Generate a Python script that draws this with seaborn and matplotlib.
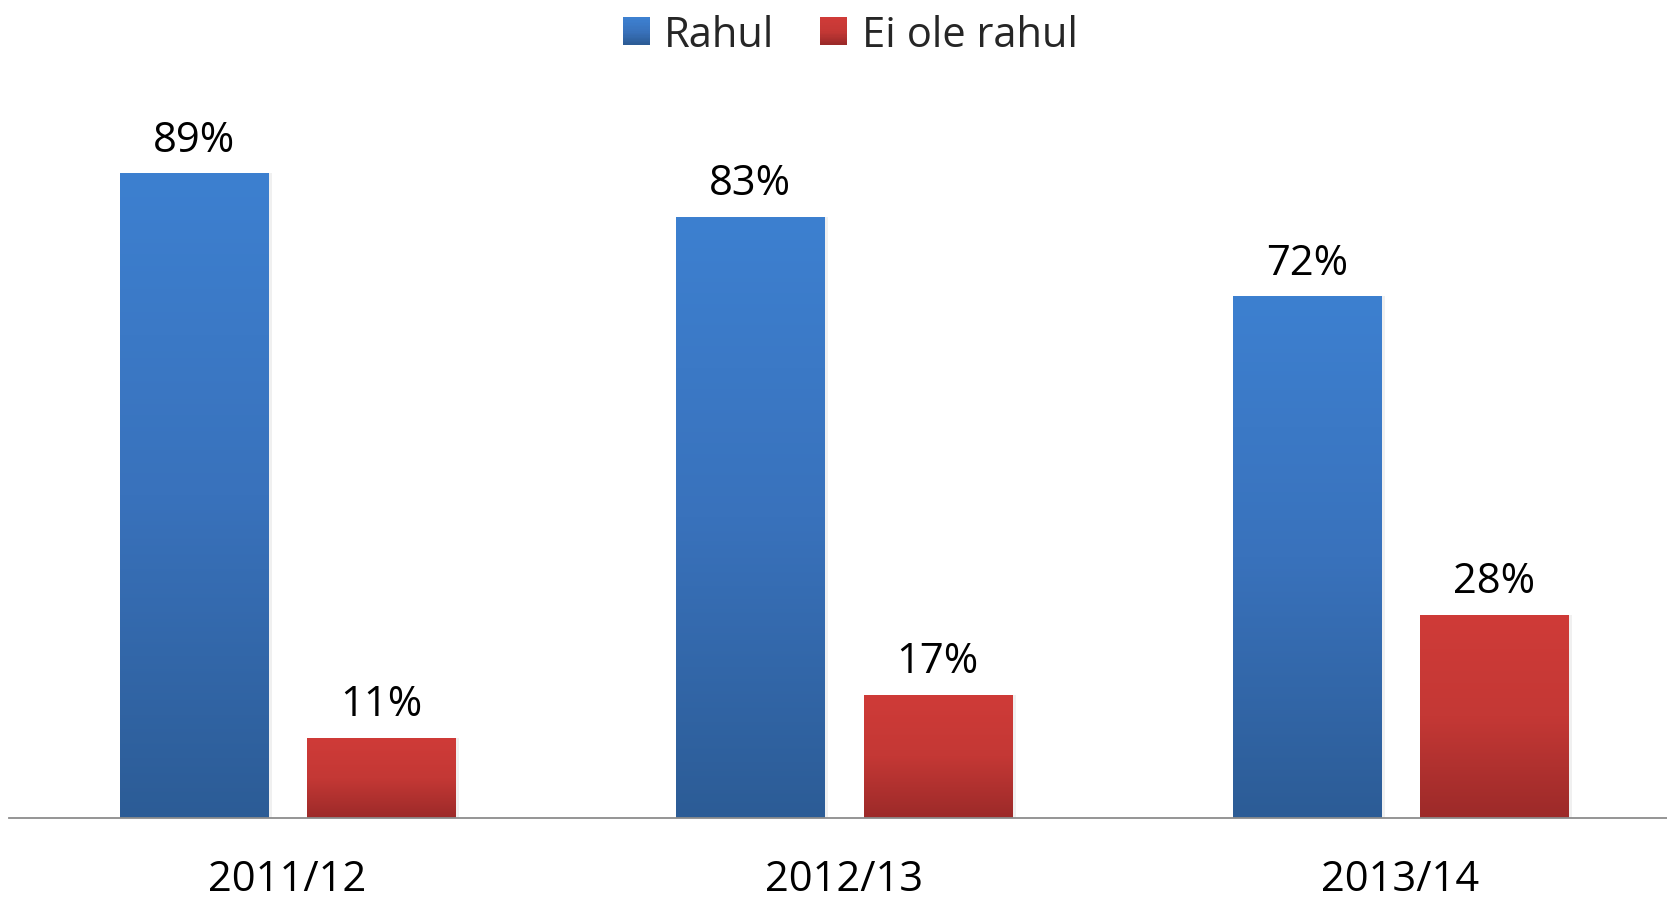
import numpy as np
import pandas as pd
import matplotlib
matplotlib.use("Agg")
import matplotlib.pyplot as plt
import seaborn as sns
from matplotlib.colors import LinearSegmentedColormap
from matplotlib.patches import Rectangle
from matplotlib.legend_handler import HandlerPatch

# Data
years = ['2011/12', '2012/13', '2013/14']
series_names = ['Rahul', 'Ei ole rahul']
rahul = [89, 83, 72]
ei_ole_rahul = [11, 17, 28]

# gradient colours (top -> bottom)
blue_grad = ['#3D80D0', '#3972BC', '#2C5C96']
red_grad = ['#CF3B38', '#C43835', '#9C2A29']

df = pd.DataFrame({
    'Year': years * 2,
    'Group': [series_names[0]] * 3 + [series_names[1]] * 3,
    'Value': rahul + ei_ole_rahul,
})

sns.set_theme(style='white')
plt.rcParams['font.family'] = ['Open Sans', 'DejaVu Sans']

fig = plt.figure(figsize=(16.67, 9.03), dpi=100)
ax = fig.add_axes([9.3 / 1667, 84.4 / 903, 1669.5 / 1667, (818.6 - 94.6) / 903])

sns.barplot(data=df, x='Year', y='Value', hue='Group', hue_order=series_names,
            palette=[blue_grad[1], red_grad[1]], width=0.674, gap=0.21,
            legend=False, ax=ax)

ax.set_ylim(0, 100)
ax.set_xlim(-0.5, 2.5)


def fill_gradient(patch, colors):
    # paint a vertical gradient clipped to the bar
    x0, y0 = patch.get_x(), patch.get_y()
    w, h = patch.get_width(), patch.get_height()
    cmap = LinearSegmentedColormap.from_list('g', colors[::-1])
    grad = np.linspace(0, 1, 256).reshape(-1, 1)
    im = ax.imshow(grad, cmap=cmap, aspect='auto', origin='lower',
                   extent=[x0, x0 + w, y0, y0 + h], zorder=patch.get_zorder())
    im.set_clip_path(patch)
    patch.set_facecolor('none')
    patch.set_edgecolor('none')
    # soft shadow on the right
    sh = Rectangle((x0 + w, y0), w * 0.025, h, facecolor='#000000', alpha=0.06,
                   edgecolor='none', zorder=patch.get_zorder() - 0.1)
    ax.add_patch(sh)


for cont, grad in zip(ax.containers, [blue_grad, red_grad]):
    for p in cont.patches:
        fill_gradient(p, grad)
    ax.bar_label(cont, labels=[f'{v:.0f}%' for v in cont.datavalues],
                 padding=9, fontsize=30, color='black')

ax.set_xlabel('')
ax.set_ylabel('')
ax.set_yticks([])
ax.tick_params(axis='x', length=0, pad=29, labelsize=30, labelcolor='black')
for s in ['top', 'right', 'left']:
    ax.spines[s].set_visible(False)
ax.spines['bottom'].set_color('#8C8C8C')
ax.spines['bottom'].set_linewidth(1.3)


class GradHandler(HandlerPatch):
    def __init__(self, colors):
        super().__init__()
        self.colors = colors

    def create_artists(self, legend, orig_handle, xdescent, ydescent,
                       width, height, fontsize, trans):
        size = min(width, height * 1.05)
        x0 = -xdescent + (width - size) / 2
        y0 = -ydescent + (height - size) / 2
        arts = []
        n = 20
        cmap = LinearSegmentedColormap.from_list('g', self.colors[::-1])
        for i in range(n):
            r = Rectangle((x0, y0 + size * i / n), size, size / n + 0.3,
                          facecolor=cmap(i / (n - 1)), edgecolor='none',
                          transform=trans)
            arts.append(r)
        return arts


h1 = Rectangle((0, 0), 1, 1)
h2 = Rectangle((0, 0), 1, 1)
fig.legend([h1, h2], series_names, loc='upper center',
           bbox_to_anchor=(0.51, 1.025), ncol=2, frameon=False,
           fontsize=30, handlelength=0.65, handleheight=0.65,
           handletextpad=0.35, columnspacing=1.1,
           handler_map={h1: GradHandler(blue_grad), h2: GradHandler(red_grad)})

fig.savefig('out.png', dpi=100)
